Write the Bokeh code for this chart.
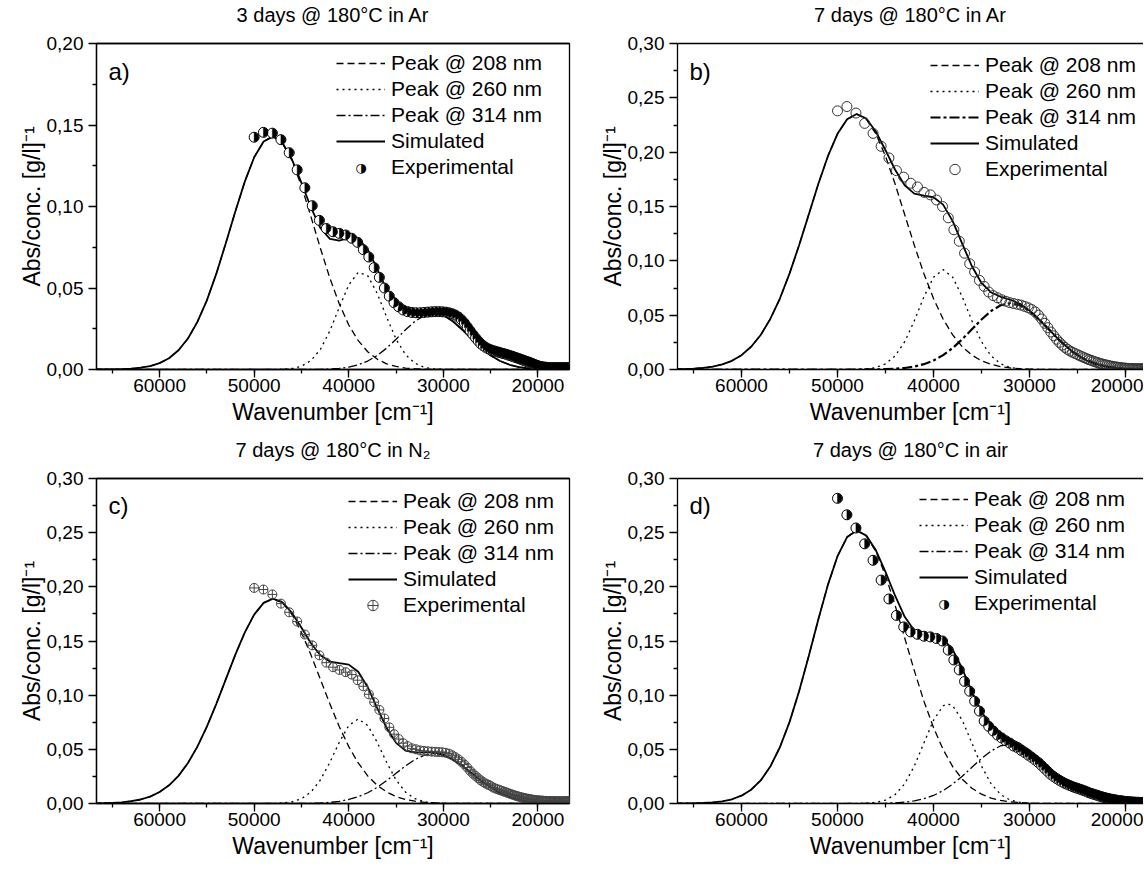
import math
from bokeh.plotting import figure
from bokeh.models import (Range1d, SingleIntervalTicker, CustomJSTickFormatter, Legend,
                          LegendItem, Label, LinearAxis, FixedTicker, ColumnDataSource)
from bokeh.layouts import column, row
from bokeh.embed import file_html
from bokeh.resources import INLINE

FONT = "Liberation Sans"

# ---------------- data ----------------
titles = ["3 days @ 180°C in Ar", "7 days @ 180°C in Ar",
          "7 days @ 180°C in N₂", "7 days @ 180°C in air"]
letters = ["a)", "b)", "c)", "d)"]
series_labels = ["Peak @ 208 nm", "Peak @ 260 nm", "Peak @ 314 nm", "Simulated", "Experimental"]

y_ticks_a = [0.0, 0.05, 0.10, 0.15, 0.20]
y_minor_a = [0.025, 0.075, 0.125, 0.175]
y_ticks_bcd = [0.0, 0.05, 0.10, 0.15, 0.20, 0.25, 0.30]
y_minor_bcd = [0.025, 0.075, 0.125, 0.175, 0.225, 0.275]

wn_grid = [67000, 66000, 65000, 64000, 63000, 62000, 61000, 60000, 59000, 58000,
           57000, 56000, 55000, 54000, 53000, 52000, 51000, 50000, 49000, 48000,
           47000, 46000, 45000, 44000, 43000, 42000, 41000, 40000, 39000, 38000,
           37000, 36000, 35000, 34000, 33000, 32000, 31000, 30000, 29000, 28000,
           27000, 26000, 25000, 24000, 23000, 22000, 21000, 20000, 19000, 18000,
           17000, 16000]

wn_exp = [50000, 49020, 48077, 47170, 46296, 45455, 44643, 43860, 43103, 42373,
          41667, 40984, 40323, 39683, 39063, 38462, 37879, 37313, 36765, 36232,
          35714, 35211, 34722, 34247, 33784, 33333, 32895, 32468, 32051, 31646,
          31250, 30864, 30488, 30120, 29762, 29412, 29070, 28736, 28409, 28090,
          27778, 27473, 27174, 26882, 26596, 26316, 26042, 25773, 25510, 25253,
          25000, 24752, 24510, 24272, 24038, 23810, 23585, 23364, 23148, 22936,
          22727, 22523, 22321, 22124, 21930, 21739, 21552, 21368, 21186, 21008,
          20833, 20661, 20492, 20325, 20161, 20000, 19841, 19685, 19531, 19380,
          19231, 19084, 18939, 18797, 18657, 18519, 18382, 18248, 18116, 17986,
          17857, 17730, 17606, 17483, 17361, 17241, 17123, 17007, 16892, 16779,
          16667]

# panel a
a_peak208 = [0.0000, 0.0000, 0.0001, 0.0002, 0.0005, 0.0011, 0.0021, 0.0039, 0.0069, 0.0118,
             0.0190, 0.0292, 0.0424, 0.0588, 0.0774, 0.0968, 0.1151, 0.1302, 0.1399, 0.1430,
             0.1388, 0.1282, 0.1125, 0.0938, 0.0744, 0.0561, 0.0402, 0.0273, 0.0177, 0.0109,
             0.0064, 0.0035, 0.0019, 0.0009, 0.0005, 0.0002, 0.0001, 0, 0, 0,
             0, 0, 0, 0, 0, 0, 0, 0, 0, 0,
             0, 0]
a_peak260 = [0, 0, 0, 0, 0, 0, 0, 0, 0, 0,
             0, 0, 0, 0, 0, 0, 0, 0, 0, 0,
             0.0002, 0.0006, 0.0020, 0.0055, 0.0123, 0.0237, 0.0382, 0.0519, 0.0596, 0.0576,
             0.0468, 0.0322, 0.0186, 0.0091, 0.0038, 0.0013, 0.0004, 0.0001, 0, 0,
             0, 0, 0, 0, 0, 0, 0, 0, 0, 0,
             0, 0]
a_peak314 = [0, 0, 0, 0, 0, 0, 0, 0, 0, 0,
             0, 0, 0, 0, 0, 0, 0, 0, 0, 0,
             0, 0, 0, 0.0001, 0.0001, 0.0003, 0.0007, 0.0015, 0.0029, 0.0052,
             0.0086, 0.0131, 0.0186, 0.0244, 0.0296, 0.0332, 0.0345, 0.0332, 0.0296, 0.0244,
             0.0186, 0.0131, 0.0086, 0.0052, 0.0029, 0.0015, 0.0007, 0.0003, 0.0001, 0,
             0, 0]
a_sim = [0.0000, 0.0000, 0.0001, 0.0002, 0.0005, 0.0011, 0.0021, 0.0039, 0.0069, 0.0118,
         0.0190, 0.0292, 0.0424, 0.0588, 0.0774, 0.0968, 0.1151, 0.1302, 0.1399, 0.1430,
         0.1390, 0.1288, 0.1145, 0.0994, 0.0868, 0.0801, 0.0791, 0.0807, 0.0802, 0.0737,
         0.0618, 0.0488, 0.0391, 0.0344, 0.0339, 0.0347, 0.0350, 0.0333, 0.0296, 0.0244,
         0.0186, 0.0131, 0.0086, 0.0052, 0.0029, 0.0015, 0.0007, 0.0003, 0.0001, 0.0000,
         0.0000, 0.0000]
a_exp = [0.1425, 0.1455, 0.1450, 0.1410, 0.1330, 0.1225, 0.1115, 0.1005, 0.0915, 0.0865,
         0.0845, 0.0835, 0.0825, 0.0805, 0.0780, 0.0735, 0.0690, 0.0625, 0.0565, 0.0500,
         0.0450, 0.0410, 0.0385, 0.0365, 0.0355, 0.0350, 0.0348, 0.0348, 0.0350, 0.0352,
         0.0354, 0.0355, 0.0355, 0.0354, 0.0352, 0.0348, 0.0342, 0.0334, 0.0322, 0.0305,
         0.0285, 0.0262, 0.0238, 0.0215, 0.0194, 0.0175, 0.0158, 0.0145, 0.0135, 0.0127,
         0.0121, 0.0116, 0.0112, 0.0108, 0.0104, 0.0100, 0.0097, 0.0093, 0.0089, 0.0085,
         0.0081, 0.0077, 0.0073, 0.0069, 0.0065, 0.0061, 0.0057, 0.0053, 0.0049, 0.0046,
         0.0042, 0.0038, 0.0034, 0.0030, 0.0026, 0.0023, 0.0020, 0.0018, 0.0016, 0.0015,
         0.0014, 0.0013, 0.0013, 0.0012, 0.0012, 0.0012, 0.0012, 0.0012, 0.0012, 0.0012,
         0.0012, 0.0012, 0.0012, 0.0012, 0.0012, 0.0012, 0.0012, 0.0012, 0.0012, 0.0012,
         0.0012]

# panel b
b_peak208 = [0.0002, 0.0004, 0.0007, 0.0014, 0.0026, 0.0047, 0.0080, 0.0132, 0.0209, 0.0318,
             0.0465, 0.0653, 0.0882, 0.1144, 0.1425, 0.1707, 0.1963, 0.2169, 0.2303, 0.2350,
             0.2303, 0.2169, 0.1963, 0.1707, 0.1425, 0.1144, 0.0882, 0.0653, 0.0465, 0.0318,
             0.0209, 0.0132, 0.0080, 0.0047, 0.0026, 0.0014, 0.0007, 0.0004, 0.0002, 0.0001,
             0, 0, 0, 0, 0, 0, 0, 0, 0, 0,
             0, 0]
b_peak260 = [0, 0, 0, 0, 0, 0, 0, 0, 0, 0,
             0, 0, 0, 0, 0, 0, 0, 0, 0, 0.0001,
             0.0006, 0.0018, 0.0052, 0.0124, 0.0256, 0.0448, 0.0668, 0.0849, 0.0920, 0.0849,
             0.0668, 0.0448, 0.0256, 0.0124, 0.0052, 0.0018, 0.0006, 0.0001, 0, 0,
             0, 0, 0, 0, 0, 0, 0, 0, 0, 0,
             0, 0]
b_peak314 = [0, 0, 0, 0, 0, 0, 0, 0, 0, 0,
             0, 0, 0, 0, 0, 0, 0, 0, 0, 0,
             0.0001, 0.0001, 0.0003, 0.0007, 0.0014, 0.0027, 0.0049, 0.0083, 0.0132, 0.0198,
             0.0279, 0.0370, 0.0460, 0.0538, 0.0591, 0.0610, 0.0591, 0.0538, 0.0460, 0.0370,
             0.0279, 0.0198, 0.0132, 0.0083, 0.0049, 0.0027, 0.0014, 0.0007, 0.0003, 0.0001,
             0.0001, 0]
b_sim = [0.0002, 0.0004, 0.0007, 0.0014, 0.0026, 0.0047, 0.0080, 0.0132, 0.0209, 0.0318,
         0.0465, 0.0653, 0.0882, 0.1144, 0.1425, 0.1707, 0.1963, 0.2169, 0.2303, 0.2351,
         0.2310, 0.2188, 0.2018, 0.1838, 0.1695, 0.1619, 0.1599, 0.1585, 0.1517, 0.1365,
         0.1156, 0.0950, 0.0796, 0.0709, 0.0669, 0.0642, 0.0604, 0.0543, 0.0462, 0.0371,
         0.0279, 0.0198, 0.0132, 0.0083, 0.0049, 0.0027, 0.0014, 0.0007, 0.0003, 0.0001,
         0.0001, 0]
b_exp = [0.2380, 0.2420, 0.2360, 0.2265, 0.2173, 0.2054, 0.1947, 0.1830, 0.1770, 0.1714,
         0.1680, 0.1630, 0.1607, 0.1560, 0.1500, 0.1396, 0.1286, 0.1180, 0.1070, 0.0973,
         0.0897, 0.0820, 0.0765, 0.0713, 0.0680, 0.0660, 0.0642, 0.0628, 0.0615, 0.0607,
         0.0600, 0.0592, 0.0580, 0.0568, 0.0552, 0.0530, 0.0500, 0.0465, 0.0425, 0.0385,
         0.0345, 0.0310, 0.0278, 0.0250, 0.0225, 0.0203, 0.0185, 0.0170, 0.0158, 0.0147,
         0.0137, 0.0127, 0.0117, 0.0108, 0.0099, 0.0091, 0.0084, 0.0077, 0.0070, 0.0064,
         0.0058, 0.0053, 0.0048, 0.0044, 0.0040, 0.0036, 0.0032, 0.0029, 0.0026, 0.0023,
         0.0021, 0.0019, 0.0017, 0.0015, 0.0013, 0.0012, 0.0011, 0.0010, 0.0009, 0.0008,
         0.0008, 0.0007, 0.0007, 0.0006, 0.0006, 0.0006, 0.0006, 0.0006, 0.0006, 0.0006,
         0.0006, 0.0006, 0.0006, 0.0006, 0.0006, 0.0006, 0.0006, 0.0006, 0.0006, 0.0006,
         0.0006]

# panel c
c_peak208 = [0.0001, 0.0003, 0.0006, 0.0011, 0.0021, 0.0037, 0.0064, 0.0106, 0.0168, 0.0255,
             0.0374, 0.0525, 0.0709, 0.0920, 0.1146, 0.1372, 0.1578, 0.1744, 0.1852, 0.1890,
             0.1852, 0.1744, 0.1578, 0.1372, 0.1146, 0.0920, 0.0709, 0.0525, 0.0374, 0.0255,
             0.0168, 0.0106, 0.0064, 0.0037, 0.0021, 0.0011, 0.0006, 0.0003, 0.0001, 0.0001,
             0, 0, 0, 0, 0, 0, 0, 0, 0, 0,
             0, 0]
c_peak260 = [0, 0, 0, 0, 0, 0, 0, 0, 0, 0,
             0, 0, 0, 0, 0, 0, 0, 0, 0, 0.0001,
             0.0005, 0.0015, 0.0044, 0.0105, 0.0217, 0.0380, 0.0566, 0.0720, 0.0780, 0.0720,
             0.0566, 0.0380, 0.0217, 0.0105, 0.0044, 0.0015, 0.0005, 0.0001, 0, 0,
             0, 0, 0, 0, 0, 0, 0, 0, 0, 0,
             0, 0]
c_peak314 = [0, 0, 0, 0, 0, 0, 0, 0, 0, 0,
             0, 0, 0, 0, 0, 0, 0, 0, 0, 0,
             0, 0, 0.0001, 0.0002, 0.0005, 0.0010, 0.0020, 0.0037, 0.0062, 0.0099,
             0.0149, 0.0211, 0.0279, 0.0347, 0.0406, 0.0446, 0.0460, 0.0446, 0.0406, 0.0347,
             0.0279, 0.0211, 0.0149, 0.0099, 0.0062, 0.0037, 0.0020, 0.0010, 0.0005, 0.0002,
             0.0001, 0]
c_sim = [0.0001, 0.0003, 0.0006, 0.0011, 0.0021, 0.0037, 0.0064, 0.0106, 0.0168, 0.0255,
         0.0374, 0.0525, 0.0709, 0.0920, 0.1146, 0.1372, 0.1578, 0.1744, 0.1852, 0.1891,
         0.1857, 0.1759, 0.1623, 0.1479, 0.1368, 0.1310, 0.1295, 0.1282, 0.1216, 0.1074,
         0.0883, 0.0697, 0.0560, 0.0489, 0.0471, 0.0472, 0.0471, 0.0450, 0.0407, 0.0348,
         0.0279, 0.0211, 0.0149, 0.0099, 0.0062, 0.0037, 0.0020, 0.0010, 0.0005, 0.0002,
         0.0001, 0]
c_exp = [0.1990, 0.1975, 0.1930, 0.1845, 0.1765, 0.1680, 0.1560, 0.1460, 0.1368, 0.1300,
         0.1258, 0.1233, 0.1212, 0.1190, 0.1138, 0.1082, 0.1008, 0.0935, 0.0864, 0.0785,
         0.0703, 0.0640, 0.0595, 0.0557, 0.0530, 0.0509, 0.0500, 0.0490, 0.0485, 0.0482,
         0.0479, 0.0477, 0.0475, 0.0473, 0.0468, 0.0460, 0.0445, 0.0428, 0.0408, 0.0385,
         0.0360, 0.0332, 0.0302, 0.0276, 0.0254, 0.0233, 0.0213, 0.0197, 0.0184, 0.0173,
         0.0163, 0.0148, 0.0139, 0.0131, 0.0124, 0.0117, 0.0110, 0.0103, 0.0096, 0.0089,
         0.0083, 0.0077, 0.0071, 0.0066, 0.0061, 0.0057, 0.0053, 0.0049, 0.0046, 0.0043,
         0.0040, 0.0037, 0.0034, 0.0032, 0.0030, 0.0029, 0.0028, 0.0027, 0.0026, 0.0025,
         0.0024, 0.0023, 0.0023, 0.0022, 0.0022, 0.0021, 0.0021, 0.0021, 0.0021, 0.0020,
         0.0020, 0.0020, 0.0020, 0.0020, 0.0020, 0.0020, 0.0020, 0.0020, 0.0020, 0.0020,
         0.0020]

# panel d
d_peak208 = [0.0000, 0.0001, 0.0002, 0.0005, 0.0010, 0.0020, 0.0039, 0.0072, 0.0127, 0.0213,
             0.0341, 0.0519, 0.0751, 0.1036, 0.1359, 0.1698, 0.2018, 0.2283, 0.2459, 0.2520,
             0.2470, 0.2326, 0.2104, 0.1830, 0.1528, 0.1227, 0.0945, 0.0701, 0.0499, 0.0340,
             0.0224, 0.0141, 0.0086, 0.0050, 0.0028, 0.0015, 0.0008, 0.0004, 0.0002, 0.0001,
             0, 0, 0, 0, 0, 0, 0, 0, 0, 0,
             0, 0]
d_peak260_wn = [67000, 66000, 65000, 64000, 63000, 62000, 61000, 60000, 59000, 58000,
                57000, 56000, 55000, 54000, 53000, 52000, 51000, 50000, 49000, 48000,
                47000, 46000, 45000, 44000, 43000, 42000, 41000, 40000, 39000, 38500,
                38000, 37000, 36000, 35000, 34000, 33000, 32000, 31000, 30000, 29000,
                28000, 27000, 26000, 25000, 24000, 23000, 22000, 21000, 20000, 19000,
                18000, 17000, 16000]
d_peak260 = [0, 0, 0, 0, 0, 0, 0, 0, 0, 0,
             0, 0, 0, 0, 0, 0, 0, 0, 0, 0.0001,
             0.0003, 0.0010, 0.0031, 0.0082, 0.0182, 0.0345, 0.0558, 0.0768, 0.0902, 0.0920,
             0.0902, 0.0768, 0.0558, 0.0345, 0.0182, 0.0082, 0.0031, 0.0010, 0.0003, 0.0001,
             0, 0, 0, 0, 0, 0, 0, 0, 0, 0,
             0, 0, 0]
d_peak314 = [0, 0, 0, 0, 0, 0, 0, 0, 0, 0,
             0, 0, 0, 0, 0, 0, 0, 0, 0, 0,
             0, 0.0001, 0.0003, 0.0006, 0.0013, 0.0024, 0.0044, 0.0074, 0.0119, 0.0179,
             0.0252, 0.0334, 0.0415, 0.0485, 0.0533, 0.0550, 0.0533, 0.0485, 0.0415, 0.0334,
             0.0252, 0.0179, 0.0119, 0.0074, 0.0044, 0.0024, 0.0013, 0.0006, 0.0003, 0.0001,
             0, 0]
d_sim = [0.0000, 0.0001, 0.0002, 0.0005, 0.0010, 0.0020, 0.0039, 0.0072, 0.0127, 0.0213,
         0.0341, 0.0519, 0.0751, 0.1036, 0.1359, 0.1698, 0.2018, 0.2283, 0.2459, 0.2521,
         0.2473, 0.2337, 0.2138, 0.1918, 0.1723, 0.1596, 0.1547, 0.1543, 0.1520, 0.1421,
         0.1244, 0.1033, 0.0846, 0.0717, 0.0643, 0.0596, 0.0551, 0.0492, 0.0418, 0.0335,
         0.0252, 0.0179, 0.0119, 0.0074, 0.0044, 0.0024, 0.0013, 0.0006, 0.0003, 0.0001,
         0, 0]
d_exp = [0.2817, 0.2665, 0.2543, 0.2397, 0.2245, 0.2062, 0.1888, 0.1736, 0.1630, 0.1584,
         0.1562, 0.1544, 0.1538, 0.1523, 0.1500, 0.1416, 0.1325, 0.1233, 0.1127, 0.1036,
         0.0944, 0.0853, 0.0761, 0.0712, 0.0670, 0.0632, 0.0605, 0.0579, 0.0558, 0.0530,
         0.0515, 0.0490, 0.0470, 0.0446, 0.0425, 0.0402, 0.0378, 0.0350, 0.0322, 0.0294,
         0.0268, 0.0248, 0.0230, 0.0214, 0.0199, 0.0186, 0.0175, 0.0165, 0.0155, 0.0147,
         0.0140, 0.0132, 0.0125, 0.0117, 0.0108, 0.0100, 0.0093, 0.0087, 0.0081, 0.0075,
         0.0069, 0.0063, 0.0058, 0.0053, 0.0049, 0.0045, 0.0041, 0.0038, 0.0035, 0.0032,
         0.0029, 0.0027, 0.0025, 0.0023, 0.0021, 0.0019, 0.0017, 0.0016, 0.0015, 0.0014,
         0.0013, 0.0012, 0.0012, 0.0011, 0.0011, 0.0010, 0.0010, 0.0010, 0.0010, 0.0010,
         0.0010, 0.0010, 0.0010, 0.0010, 0.0010, 0.0010, 0.0010, 0.0010, 0.0010, 0.0010,
         0.0010]


# ---------------- drawing ----------------
ROW_H = 26  # legend row height in px


def style_axis(ax, label):
    ax.axis_label = label
    ax.axis_line_width = 1.3
    ax.axis_line_color = "black"
    ax.major_tick_line_width = 1.3
    ax.minor_tick_line_width = 1.3
    ax.major_tick_line_color = "black"
    ax.minor_tick_line_color = "black"
    ax.major_tick_in = 0
    ax.major_tick_out = 8
    ax.minor_tick_in = 0
    ax.minor_tick_out = 4
    ax.major_label_text_font = FONT
    ax.major_label_text_font_size = "19px"
    ax.major_label_text_color = "black"
    ax.axis_label_text_font = FONT
    ax.axis_label_text_font_size = "23px"
    ax.axis_label_text_font_style = "normal"
    ax.axis_label_text_color = "black"


def build(idx, ymax, yt, ym, x_end, w, h, bl, br, bt, bb, boxed,
          p208, p260_x, p260, p314, sim, exp, marker, legend_top, dd_width, dd_dash):
    p = figure(width=w, height=h, title=None,
               x_range=Range1d(66667, x_end), y_range=Range1d(0, ymax),
               output_backend="svg", toolbar_location=None,
               min_border_left=bl, min_border_right=br, min_border_top=bt, min_border_bottom=bb,
               background_fill_color="white", border_fill_color="white")
    p.xgrid.visible = False
    p.ygrid.visible = False

    xa = p.xaxis[0]
    ya = p.yaxis[0]
    xa.ticker = SingleIntervalTicker(interval=10000, num_minor_ticks=2)
    ya.ticker = FixedTicker(ticks=yt, minor_ticks=ym)
    xa.formatter = CustomJSTickFormatter(code="return tick.toFixed(0);")
    ya.formatter = CustomJSTickFormatter(code="return tick.toFixed(2).replace('.', ',');")
    style_axis(xa, "Wavenumber [cm⁻¹]")
    style_axis(ya, "Abs/conc. [g/l]⁻¹")
    xa.major_label_standoff = 1
    xa.axis_label_standoff = 4
    ya.major_label_standoff = 5
    ya.axis_label_standoff = -1

    if boxed:
        p.outline_line_color = "black"
        p.outline_line_width = 1.3
        p.outline_line_alpha = 1.0
    else:
        p.outline_line_color = None

    # top axis without ticks: draws the top frame line and carries the panel title
    top = LinearAxis(ticker=FixedTicker(ticks=[]), major_label_text_font_size="0px",
                     major_label_standoff=0,
                     axis_line_width=1.3, axis_line_color="black",
                     major_tick_out=0, major_tick_in=0, minor_tick_out=0, minor_tick_in=0,
                     axis_label=titles[idx], axis_label_standoff=18,
                     axis_label_text_font=FONT, axis_label_text_font_size="20px",
                     axis_label_text_font_style="normal", axis_label_text_color="black")
    p.add_layout(top, "above")

    r1 = p.line(wn_grid, p208, line_color="black", line_width=1.3, line_dash="7 4")
    r2 = p.line(p260_x, p260, line_color="black", line_width=1.3, line_dash="2 4")
    r3 = p.line(wn_grid, p314, line_color="black", line_width=dd_width, line_dash=dd_dash)
    r4 = p.line(wn_grid, sim, line_color="black", line_width=1.8)

    n = min(len(wn_exp), len(exp))
    src = ColumnDataSource(dict(x=wn_exp[:n], y=exp[:n]))
    lx, ly = legend_top
    if marker == "half":
        p.scatter("x", "y", source=src, marker="circle", size=10,
                  fill_color="white", line_color="black", line_width=1)
        p.wedge("x", "y", source=src, radius=4.6, radius_units="screen",
                start_angle=-math.pi / 2, end_angle=math.pi / 2,
                fill_color="black", line_color="black", line_width=0.5)
        r5 = p.text(x=[], y=[], text=[])
        p.add_layout(Label(x=lx + 24.5, y=ly - 4 * ROW_H - ROW_H / 2, x_units="screen", y_units="screen",
                           text="◑", text_align="center", text_baseline="middle",
                           text_font="DejaVu Sans", text_font_size="13px", text_color="black"))
    elif marker == "open":
        r5 = p.scatter("x", "y", source=src, marker="circle", size=10,
                       fill_color=None, line_color="#333333", line_width=1)
    else:
        r5 = p.scatter("x", "y", source=src, marker="circle_cross", size=9,
                       fill_color=None, line_color="#444444", line_width=1)

    items = [LegendItem(label=series_labels[i], renderers=[r]) for i, r in enumerate([r1, r2, r3, r4, r5])]
    # location is the legend's bottom-left corner, in px from the frame's bottom-left
    leg = Legend(items=items, location=(lx, ly - 5 * ROW_H), orientation="vertical",
                 background_fill_alpha=0, border_line_alpha=0, padding=0, margin=0, spacing=0,
                 label_standoff=6, glyph_width=49, glyph_height=ROW_H, label_height=ROW_H,
                 label_text_font=FONT, label_text_font_size="21px", label_text_color="black")
    p.add_layout(leg)

    p.add_layout(Label(x=12, y=298, x_units="screen", y_units="screen", text=letters[idx],
                       text_align="left", text_baseline="middle", text_font=FONT,
                       text_font_size="24px", text_color="black"))
    return p


pa = build(0, 0.20, y_ticks_a, y_minor_a, 16667, 579, 435, 96, 10, 43, 66, True,
           a_peak208, wn_grid, a_peak260, a_peak314, a_sim, a_exp, "half", (240, 319), 1.3, "9 3 2 3")
pb = build(1, 0.30, y_ticks_bcd, y_minor_bcd, 18125, 564, 435, 98, 0, 43, 66, False,
           b_peak208, wn_grid, b_peak260, b_peak314, b_sim, b_exp, "open", (253, 317), 2.2, "10 3 3 3")
pc = build(2, 0.30, y_ticks_bcd, y_minor_bcd, 16667, 579, 435, 96, 10, 42, 67, True,
           c_peak208, wn_grid, c_peak260, c_peak314, c_sim, c_exp, "cross", (252, 315), 1.3, "9 3 2 3")
pd = build(3, 0.30, y_ticks_bcd, y_minor_bcd, 18125, 564, 435, 98, 0, 42, 67, False,
           d_peak208, d_peak260_wn, d_peak260, d_peak314, d_sim, d_exp, "half", (242, 317), 1.3, "9 3 2 3")

layout = column(row(pa, pb), row(pc, pd))
open("out.html", "w").write(file_html(layout, INLINE))
